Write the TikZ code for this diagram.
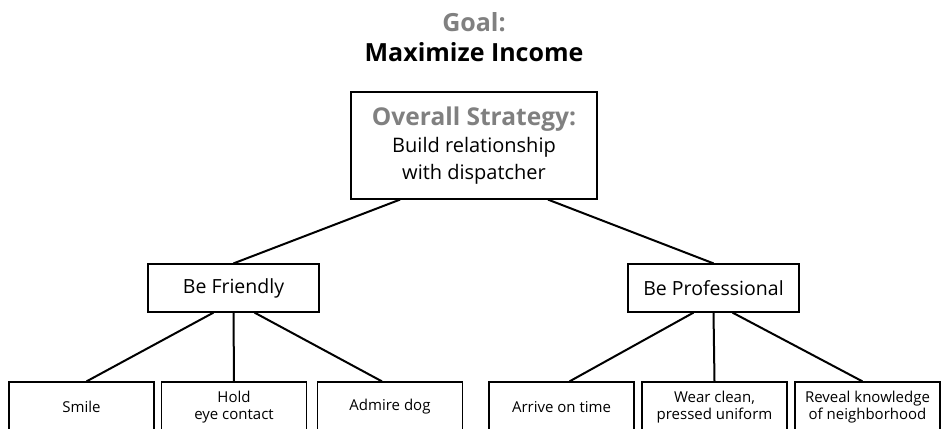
\documentclass[tikz,border=0pt]{standalone}
\usepackage{fontspec}
\setmainfont{Open Sans}
\usepackage{xcolor}
\definecolor{titlegray}{RGB}{128,128,128}
\tikzset{
    goal-title/.style = {text=titlegray, font=\fontsize{25}{29}\selectfont\bfseries},
    goal-text/.style = {text=black, font=\fontsize{25}{29}\selectfont\bfseries},
    strategy-box/.style = {draw=black, fill=white, line width=1.2pt, rectangle, minimum width=246pt, minimum height=107pt, inner sep=0pt, align=center, font=\fontsize{20}{27}\selectfont},
    branch-box/.style = {draw=black, fill=white, line width=1.2pt, rectangle, minimum width=171pt, minimum height=48pt, inner sep=0pt, align=center, font=\fontsize{19.5}{22}\selectfont},
    leaf-box/.style = {draw=black, fill=white, line width=1.2pt, rectangle, minimum width=145pt, minimum height=50pt, inner sep=0pt, align=center, font=\fontsize{15}{17}\selectfont},
    link/.style = {draw=black, line width=2pt},
}

\begin{document}
\begin{tikzpicture}[x=1pt,y=-1pt]
\useasboundingbox (0,0) rectangle (941,428);
\clip (0,0) rectangle (941,428);
\node[goal-title] (goal) at (474,22) {Goal:};
\node[goal-text] (income) at (474,52) {Maximize Income};
\node[strategy-box] (strategy) at (474,145.5) {{\color{titlegray}\fontsize{24.5}{27}\selectfont\bfseries Overall Strategy:}\\Build relationship\\with dispatcher};

\node[branch-box] (friendly) at (233.5,288) {Be Friendly};
\node[branch-box] (professional) at (713.5,288) {Be Professional};

\node[leaf-box] (smile) at (81.5,407) {Smile};
\node[leaf-box] (eyecontact) at (234,407) {Hold\\eye contact};
\node[leaf-box] (admiredog) at (390,407) {Admire dog};
\node[leaf-box] (ontime) at (561.5,407) {Arrive on time};
\node[leaf-box] (uniform) at (714.5,407) {Wear clean,\\pressed uniform};
\node[leaf-box] (neighborhood) at (867.5,407) {Reveal knowledge\\of neighborhood};

\draw[link] ([xshift=-74pt]strategy.south) -- (friendly.north);
\draw[link] ([xshift=74pt]strategy.south) -- (professional.north);

\draw[link] ([xshift=-20pt]friendly.south) -- ([xshift=5pt]smile.north);
\draw[link] (friendly.south) -- (eyecontact.north);
\draw[link] ([xshift=21pt]friendly.south) -- ([xshift=-8pt]admiredog.north);

\draw[link] ([xshift=-20pt]professional.south) -- ([xshift=8pt]ontime.north);
\draw[link] (professional.south) -- (uniform.north);
\draw[link] ([xshift=19pt]professional.south) -- ([xshift=-5pt]neighborhood.north);
\end{tikzpicture}
\end{document}
